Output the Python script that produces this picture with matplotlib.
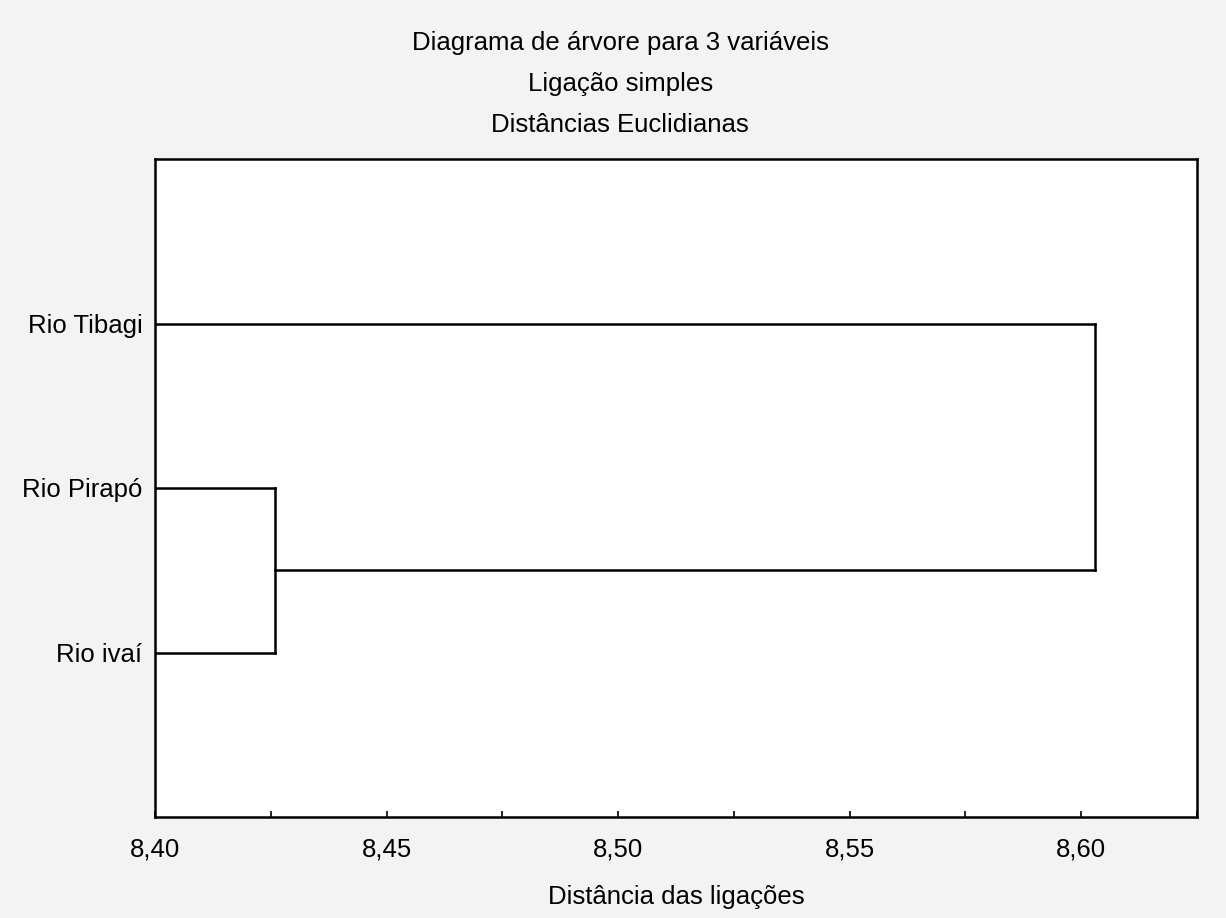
import numpy as np
import matplotlib
matplotlib.use("Agg")
import matplotlib.pyplot as plt
from matplotlib.ticker import MultipleLocator, FuncFormatter

plt.rcParams['font.family'] = ['Liberation Sans', 'DejaVu Sans']

# Data: leaves top-to-bottom and linkage distances
leaves = ["Rio Tibagi", "Rio Pirapó", "Rio ivaí"]
merge_dist = [8.426, 8.603]   # Pirapó+ivaí, then + Tibagi
x_start = 8.40

title_lines = ["Diagrama de árvore para 3 variáveis",
               "Ligação simples",
               "Distâncias Euclidianas"]

fs = 18.5

fig = plt.figure(figsize=(12.26, 9.18), dpi=100, facecolor="#f3f3f3")
ax = fig.add_axes([155 / 1226, 1 - 817 / 918, (1197 - 155) / 1226, (817 - 159) / 918])
ax.set_facecolor("white")

ys = {name: 3 - i for i, name in enumerate(leaves)}
lw = 1.8
col = "black"

# first cluster: Pirapó + ivaí
y_a, y_b = ys["Rio Pirapó"], ys["Rio ivaí"]
h1 = merge_dist[0]
ax.plot([x_start, h1], [y_a, y_a], color=col, lw=lw)
ax.plot([x_start, h1], [y_b, y_b], color=col, lw=lw)
ax.plot([h1, h1], [y_a, y_b], color=col, lw=lw)
y_c1 = (y_a + y_b) / 2

# second merge with Tibagi
h2 = merge_dist[1]
y_t = ys["Rio Tibagi"]
ax.plot([h1, h2], [y_c1, y_c1], color=col, lw=lw)
ax.plot([x_start, h2], [y_t, y_t], color=col, lw=lw)
ax.plot([h2, h2], [y_c1, y_t], color=col, lw=lw)

ax.set_xlim(8.40, 8.625)
ax.set_ylim(0, 4)

ax.xaxis.set_major_locator(MultipleLocator(0.05))
ax.xaxis.set_minor_locator(MultipleLocator(0.025))
ax.xaxis.set_major_formatter(FuncFormatter(lambda v, p: f"{v:.2f}".replace(".", ",")))
ax.tick_params(axis="x", which="both", direction="in", length=4, width=1.2,
               labelsize=fs, pad=15, top=False)

ax.set_yticks([ys[n] for n in leaves])
ax.set_yticklabels(leaves)
ax.tick_params(axis="y", length=0, labelsize=fs, pad=9)

for s in ax.spines.values():
    s.set_linewidth(1.8)

ax.set_xlabel("Distância das ligações", fontsize=fs, labelpad=17)

for i, line in enumerate(title_lines):
    fig.text(0.506, 1 - (43 + 41 * i) / 918, line, ha="center", va="center",
             fontsize=fs)

fig.savefig("out.png", dpi=100, facecolor=fig.get_facecolor())
